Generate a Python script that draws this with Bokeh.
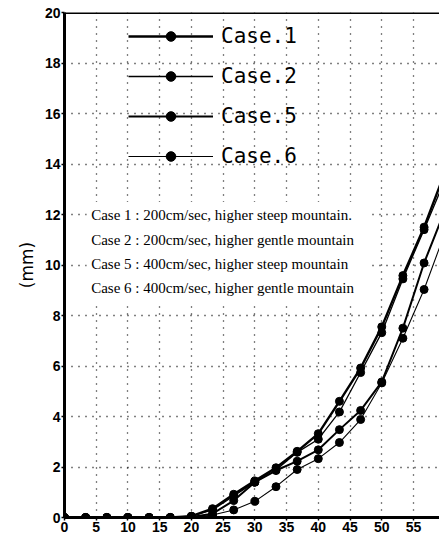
from bokeh.plotting import figure
from bokeh.models import (Range1d, Span, Label, BoxAnnotation, Legend, LegendItem,
                          FixedTicker)
from bokeh.embed import file_html
from bokeh.resources import INLINE

# ---------------- data ----------------
time = [0, 3.33, 6.67, 10, 13.33, 16.67, 20, 23.33, 26.67, 30, 33.33, 36.67,
        40, 43.33, 46.67, 50, 53.33, 56.67, 60]
case1 = [0, 0, 0, 0, 0, 0, 0.05, 0.35, 0.92, 1.45, 1.97, 2.62, 3.32, 4.6,
         5.92, 7.55, 9.58, 11.5, 13.7]
case2 = [0, 0, 0, 0, 0, 0, 0.05, 0.3, 0.85, 1.4, 1.88, 2.58, 3.1, 4.18,
         5.74, 7.32, 9.45, 11.4, 13.4]
case5 = [0, 0, 0, 0, 0, 0, 0.02, 0.15, 0.67, 1.4, 1.86, 2.23, 2.68, 3.48,
         4.24, 5.37, 7.5, 10.08, 12.2]
case6 = [0, 0, 0, 0, 0, 0, 0.0, 0.1, 0.3, 0.64, 1.22, 1.9, 2.33, 2.97,
         3.88, 5.33, 7.1, 9.03, 11.3]
series_names = ["Case.1", "Case.2", "Case.5", "Case.6"]
notes = ["Case 1 : 200cm/sec, higher steep mountain.",
         "Case 2 : 200cm/sec, higher gentle mountain",
         "Case 5 : 400cm/sec, higher steep mountain",
         "Case 6 : 400cm/sec, higher gentle mountain"]
x_ticks = [0, 5, 10, 15, 20, 25, 30, 35, 40, 45, 50, 55]
y_ticks = [0, 2, 4, 6, 8, 10, 12, 14, 16, 18, 20]
y_label = "(mm)"

# ---------------- figure ----------------
p = figure(width=439, height=536, output_backend="svg", toolbar_location=None,
           x_range=Range1d(0, 59.1), y_range=Range1d(0, 20),
           min_border_left=64, min_border_right=0, min_border_top=12,
           min_border_bottom=19)
p.outline_line_color = None
p.background_fill_color = "white"

for ax in (p.xaxis[0], p.yaxis[0]):
    ax.axis_line_width = 3
    ax.axis_line_color = "black"
    ax.major_tick_out = 3
    ax.major_tick_in = 0
    ax.minor_tick_out = 0
    ax.minor_tick_in = 0
    ax.major_tick_line_width = 1.5
    ax.major_tick_line_color = "black"
    ax.major_label_text_font = "Liberation Sans"
    ax.major_label_text_font_style = "bold"
    ax.major_label_text_font_size = "14px"
    ax.major_label_text_color = "black"
    ax.major_label_standoff = 1

p.xaxis.ticker = FixedTicker(ticks=x_ticks)
p.yaxis.ticker = FixedTicker(ticks=y_ticks)
p.yaxis.axis_label = y_label
p.yaxis.axis_label_text_font = "DejaVu Sans"
p.yaxis.axis_label_text_font_style = "normal"
p.yaxis.axis_label_text_font_size = "17px"
p.yaxis.axis_label_text_color = "black"
p.yaxis.axis_label_standoff = 5

for g in (p.xgrid[0], p.ygrid[0]):
    g.grid_line_color = "black"
    g.grid_line_dash = "1 6"
    g.grid_line_width = 1.3

p.add_layout(Span(location=20, dimension="width", line_color="black",
                  line_width=3))

# white box behind the notes
p.add_layout(BoxAnnotation(left=3.5, right=48, bottom=8.5, top=12.5,
                           fill_color="white", fill_alpha=1.0,
                           line_color=None))

widths = [2.4, 1.3, 2.0, 1.1]
items = []
for name, ys, lw in zip(series_names, [case1, case2, case5, case6], widths):
    r1 = p.line(time, ys, line_color="black", line_width=lw)
    r2 = p.scatter(time, ys, marker="circle", size=8, fill_color="black",
                   line_color="black")
    items.append(LegendItem(label=name, renderers=[r1, r2]))

legend = Legend(items=items, location=(64, 349), padding=0, margin=0,
                border_line_color=None, background_fill_alpha=0,
                glyph_width=85, glyph_height=24, label_height=24,
                label_standoff=8, spacing=16,
                label_text_font="DejaVu Sans Mono",
                label_text_font_size="21px", label_text_color="black")
p.add_layout(legend)

note_y = [12.0, 11.0, 10.02, 9.07]
for txt, yy in zip(notes, note_y):
    p.add_layout(Label(x=4.2, y=yy, text=txt, text_font="Liberation Serif",
                       text_font_size="15px", text_baseline="middle",
                       text_color="black"))

open("out.html", "w").write(file_html(p, INLINE))
